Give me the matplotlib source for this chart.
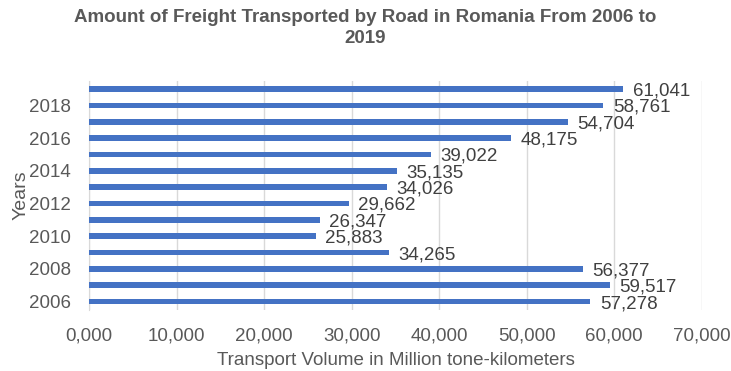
import matplotlib.pyplot as plt
from matplotlib.ticker import FuncFormatter

years = list(range(2006, 2020))
volume = [57278, 59517, 56377, 34265, 25883, 26347, 29662,
          34026, 35135, 39022, 48175, 54704, 58761, 61041]

plt.rcParams['font.family'] = ['Liberation Sans', 'DejaVu Sans']
grey = '#595959'

fig = plt.figure(figsize=(7.31, 3.71), dpi=100)
ax = fig.add_axes([0.122, 0.165, 0.838, 0.617])

pos = list(range(len(years)))
ax.barh(pos, volume, height=0.35, color='#4472C4', zorder=3)

# value labels, Excel-style just past the bar end
for p, v in zip(pos, volume):
    ax.text(v + 1100, p - 0.12, f'{v:,}', va='center', ha='left',
            fontsize=13.5, color='#404040', zorder=4)

ax.set_xlim(0, 70000)
ax.set_ylim(-0.5, len(years) - 0.5)
ax.set_xticks(range(0, 70001, 10000))
ax.xaxis.set_major_formatter(FuncFormatter(lambda x, _: f'{int(x) // 1000},000'))
ax.set_yticks(pos[::2])
ax.set_yticklabels([str(y) for y in years[::2]])

ax.grid(axis='x', color='#D9D9D9', linewidth=1, zorder=0)
for s in ['top', 'right', 'bottom']:
    ax.spines[s].set_visible(False)
ax.spines['left'].set_color('#D9D9D9')
ax.tick_params(axis='both', length=0, labelsize=13.5, colors=grey)
ax.tick_params(axis='x', pad=13)
ax.tick_params(axis='y', pad=13)

ax.set_xlabel('Transport Volume in Million tone-kilometers', fontsize=13.5,
              color=grey, labelpad=5)
ax.set_ylabel('Years', fontsize=14, color=grey, labelpad=0)

fig.text(0.5, 0.975, 'Amount of Freight Transported by Road in Romania From 2006 to\n2019',
         ha='center', va='top', fontsize=13.5, fontweight='bold', color=grey,
         linespacing=1.3)

fig.savefig('out.png', dpi=100)
